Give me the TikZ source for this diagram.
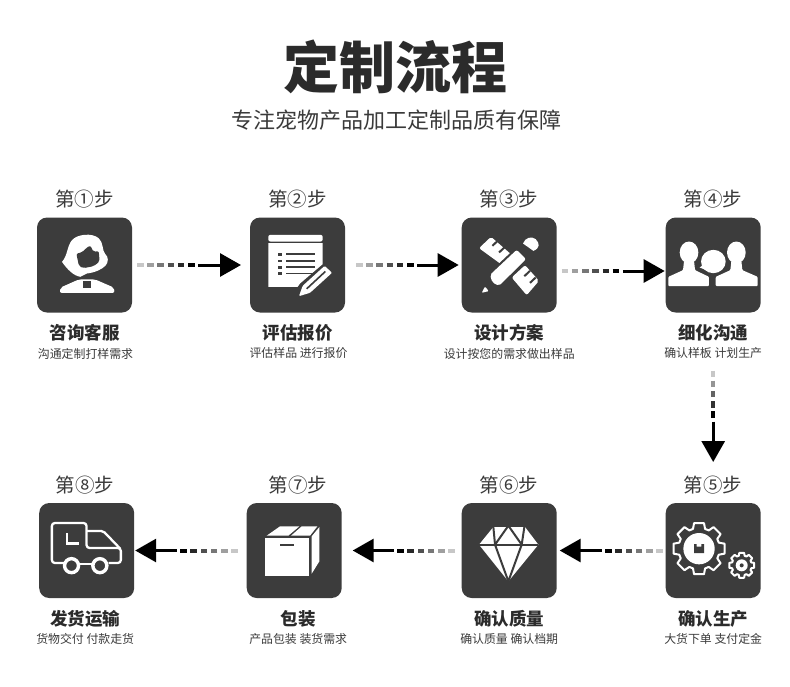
\documentclass[tikz,border=0pt]{standalone}
\usepackage{fontspec}
\setmainfont{Noto Sans CJK SC}
\usepackage{xcolor}
\usetikzlibrary{arrows.meta, positioning, calc}
\definecolor{panel}{HTML}{3C3C3C}
\definecolor{ink}{HTML}{2B2B2B}
\definecolor{mute}{HTML}{3A3A3A}
\tikzset{
  iconbox/.style  ={fill=panel, draw=none, rounded corners=10pt, minimum size=95pt,
                    inner sep=0pt, outer sep=0pt},
  headline/.style ={font=\bfseries\fontsize{56}{56}\selectfont, text=ink, inner sep=0pt},
  slogan/.style   ={font=\fontsize{22}{22}\selectfont, text=mute, inner sep=0pt},
  stepname/.style ={font=\fontsize{19.5}{20}\selectfont, text=mute, inner sep=0pt},
  boxname/.style  ={font=\bfseries\fontsize{17.5}{18}\selectfont, text=ink, inner sep=0pt},
  boxnote/.style  ={font=\fontsize{11.9}{12}\selectfont, text=mute, inner sep=0pt},
  flow/.style     ={-{Triangle[length=21pt,width=23pt]}, line width=3pt, draw=black},
  fadedot/.style  ={line width=4pt},
  glyph/.style    ={shift={(#1.north west)}, x=0.3333pt, y=-0.3333pt},
  glyphline/.style={draw=white, line width=2.3pt},
  cutline/.style  ={draw=panel, line width=2pt}
}
% from, to, gap at start, gap at end, number of dots
\newcommand{\fadeflow}[5]{
  \coordinate (fs) at ($(#1)!#3pt!(#2)$);
  \coordinate (fe) at ($(#2)!#4pt!(#1)$);
  \foreach \i [evaluate=\i as \g using {22+78*(\i-1)/(#5-1)},
               evaluate=\i as \da using {(\i-1)*10.2},
               evaluate=\i as \db using {(\i-1)*10.2+6.5}] in {1,...,#5}
    \draw[fadedot, draw=black!\g] ($(fs)!\da pt!(fe)$) -- ($(fs)!\db pt!(fe)$);
  \draw[flow, shorten <={#3pt+#5*10.2pt}, shorten >=#4pt] (#1) -- (#2);
}
\newcommand{\gearshape}[2]{
  \draw[glyphline, line width=2pt, line join=round] (-17:#2)
    \foreach \a in {0,45,...,315} { -- (\a-17:#2) -- (\a-11:#1) -- (\a+11:#1) -- (\a+17:#2) } -- cycle;
}
\begin{document}
\begin{tikzpicture}[x=1pt, y=-1pt, node distance=9pt]
  \useasboundingbox (0,0) rectangle (790,686);
  \node[headline] (head) at (395,67) {定制流程};
  \node[slogan]   (sub)  at (396,120) {专注宠物产品加工定制品质有保障};

  \node[iconbox] (ic1) at (84.5,265) {};
  \node[iconbox, right=118pt of ic1]   (ic2) {};
  \node[iconbox, right=116.7pt of ic2] (ic3) {};
  \node[iconbox, right=109pt of ic3]   (ic4) {};
  \node[iconbox, below=190.5pt of ic4] (ic5) {};
  \node[iconbox, left=109pt of ic5]    (ic6) {};
  \node[iconbox, left=120pt of ic6]    (ic7) {};
  \node[iconbox, left=112.5pt of ic7]  (ic8) {};

  \node[stepname, above=of ic1] (st1) {第①步};
  \node[stepname, above=of ic2] (st2) {第②步};
  \node[stepname, above=of ic3] (st3) {第③步};
  \node[stepname, above=of ic4] (st4) {第④步};
  \node[stepname, above=of ic5] (st5) {第⑤步};
  \node[stepname, above=of ic6] (st6) {第⑥步};
  \node[stepname, above=of ic7, xshift=4pt]    (st7) {第⑦步};
  \node[stepname, above=of ic8, xshift=-1.5pt] (st8) {第⑧步};

  \node[boxname, below=12pt of ic1] (na1) {咨询客服};
  \node[boxname, below=12pt of ic2] (na2) {评估报价};
  \node[boxname, below=12pt of ic3] (na3) {设计方案};
  \node[boxname, below=12pt of ic4] (na4) {细化沟通};
  \node[boxname, below=12pt of ic5] (na5) {确认生产};
  \node[boxname, below=12pt of ic6] (na6) {确认质量};
  \node[boxname, below=12pt of ic7, xshift=4pt]    (na7) {包装};
  \node[boxname, below=12pt of ic8, xshift=-1.5pt] (na8) {发货运输};

  \node[boxnote, below=6pt of na1, xshift=1pt] (no1) {沟通定制打样需求};
  \node[boxnote, below=6pt of na2, xshift=1pt] (no2) {评估样品 进行报价};
  \node[boxnote, below=6pt of na3] (no3) {设计按您的需求做出样品};
  \node[boxnote, below=6pt of na4] (no4) {确认样板 计划生产};
  \node[boxnote, below=6pt of na5] (no5) {大货下单 支付定金};
  \node[boxnote, below=6pt of na6] (no6) {确认质量 确认档期};
  \node[boxnote, below=6pt of na7] (no7) {产品包装 装货需求};
  \node[boxnote, below=6pt of na8] (no8) {货物交付 付款走货};

  \fadeflow{ic1.east}{ic2.west}{5}{9}{6}
  \fadeflow{ic2.east}{ic3.west}{11}{3}{6}
  \fadeflow{[yshift=-6pt]ic3.east}{[yshift=-6pt]ic4.west}{5}{1}{6}
  \fadeflow{ic4.south}{ic5.north}{58}{41}{5}
  \fadeflow{ic5.west}{ic6.east}{3}{3}{6}
  \fadeflow{ic6.west}{ic7.east}{7}{11}{6}
  \fadeflow{ic7.west}{ic8.east}{9}{1}{6}

  % headset
  \begin{scope}[glyph=ic1]
    \fill[white] (75,133) .. controls (92,115) and (90,85) .. (105,68)
      .. controls (120,50) and (165,45) .. (185,62) .. controls (200,75) and (195,100) .. (205,110)
      .. controls (215,118) and (215,135) .. (205,145) .. controls (195,155) and (175,165) .. (150,168)
      -- (130,178) .. controls (110,175) and (90,155) .. (75,133) -- cycle;
    \fill[panel, rounded corners=2pt] (118,108) -- (135,105) -- (147,92) -- (160,84) -- (170,104)
      -- (185,100) -- (188,132) -- (170,146) -- (140,152) -- (126,146) -- cycle;
    \draw[white, line width=1.8pt] (205,132) .. controls (195,150) and (170,158) .. (140,160);
    \fill[white, rounded corners=2pt] (68,226) -- (71,210) -- (125,186) -- (175,186) -- (230,210) -- (233,226) -- cycle;
    \fill[panel] (137,192) rectangle (163,211);
  \end{scope}
  % form and pen
  \begin{scope}[glyph=ic2]
    \fill[white, rounded corners=2pt] (55,72) -- (55,52) -- (218,52) -- (218,72) -- cycle;
    \fill[white] (55,77) -- (218,77) -- (218,140) -- (150,198) -- (143,208) -- (55,208) -- cycle;
    \foreach \r in {110,130,149,168} {
      \fill[panel] (83,\r-4) rectangle (95,\r+4);
      \fill[panel] (108,\r-3) rectangle (195,\r+3);
    }
    \fill[white, rounded corners=1pt] (147,236) -- (158,205) -- (224,145) -- (246,166) -- (180,226) -- cycle;
    \draw[cutline, line width=1.6pt] (170,214) -- (226,162);
  \end{scope}
  % ruler and pencil
  \begin{scope}[glyph=ic3]
    \fill[white, rounded corners=2pt] (52,92) -- (88,58) -- (150,112) -- (118,140) -- cycle;
    \fill[white, rounded corners=2pt] (150,180) -- (190,143) -- (232,190) -- (195,233) -- cycle;
    \draw[cutline] (108,70) -- (92,85);
    \draw[cutline] (128,90) -- (112,105);
    \draw[cutline] (205,160) -- (188,176);
    \draw[cutline] (222,180) -- (205,196);
    \fill[panel] (76,172) -- (165,88) -- (202,125) -- (112,214) -- cycle;
    \fill[white, rounded corners=2pt] (85,172) -- (165,97) -- (193,125) -- (112,205) -- (92,195) -- cycle;
    \fill[white, rounded corners=1pt] (60,226) -- (70,207) -- (81,221) -- cycle;
    \fill[white] (184,78) .. controls (190,60) and (210,55) .. (222,65)
      .. controls (235,78) and (235,92) .. (215,100) -- cycle;
  \end{scope}
  % three people
  \begin{scope}[glyph=ic4]
    \fill[white] (70,105) ellipse [x radius=28, y radius=33];
    \fill[white] (212,105) ellipse [x radius=28, y radius=33];
    \fill[white, rounded corners=1pt] (8,206) -- (8,178) -- (52,158) -- (55,130) -- (85,130) -- (88,158) -- (130,178) -- (130,206) -- cycle;
    \fill[white, rounded corners=1pt] (150,206) -- (150,178) -- (194,158) -- (197,130) -- (227,130) -- (230,158) -- (276,178) -- (276,206) -- cycle;
    \fill[panel] (143,132) ellipse [x radius=44, y radius=41];
    \fill[panel] (131,170) rectangle (149,206);
    \fill[white] (143,132) ellipse [x radius=37, y radius=35];
    \fill[white] (115,140) -- (102,150) -- (122,158) -- cycle;
  \end{scope}
  % gears
  \begin{scope}[glyph=ic5]
    \begin{scope}[shift={(100,137)}]
      \gearshape{78}{62}
      \fill[white] (0,0) circle [radius=47];
      \fill[panel] (-15,-14) -- (-7,-14) -- (-7,-6) -- (7,-6) -- (7,-14) -- (15,-14) -- (15,13) -- (-15,13) -- cycle;
    \end{scope}
    \begin{scope}[shift={(228,187)}]
      \gearshape{38}{30}
      \fill[white] (0,0) circle [radius=18];
      \fill[panel] (0,0) circle [radius=6];
    \end{scope}
  \end{scope}
  % diamond
  \begin{scope}[glyph=ic6]
    \fill[white] (52,125) -- (95,72) -- (190,72) -- (230,125) -- (140,235) -- cycle;
    \draw[cutline] (52,125) -- (230,125);
    \draw[cutline] (95,72) -- (100,125) -- (140,235) -- (180,125) -- (188,72);
    \draw[cutline] (100,125) -- (140,68) -- (180,125);
  \end{scope}
  % carton
  \begin{scope}[glyph=ic7]
    \fill[white] (55,105) rectangle (188,218);
    \fill[white] (60,98) -- (100,70) -- (158,70) -- (125,98) -- cycle;
    \fill[white] (133,98) -- (165,70) -- (212,70) -- (190,98) -- cycle;
    \fill[white] (195,100) -- (218,72) -- (218,175) -- (195,212) -- cycle;
    \fill[panel] (100,122) rectangle (142,130);
  \end{scope}
  % truck
  \begin{scope}[glyph=ic8]
    \draw[glyphline, line join=round, rounded corners=3pt] (75,180) -- (38,180) -- (38,60) -- (142,60)
      -- (142,135) -- (245,135) -- (245,180) -- (208,180);
    \draw[glyphline, rounded corners=2pt] (142,84) -- (192,84) -- (243,137);
    \draw[glyphline] (122,183) -- (157,183);
    \draw[white, line width=3.4pt] (97,188) circle [radius=21];
    \draw[white, line width=3.4pt] (182,188) circle [radius=21];
    \draw[glyphline, line width=2.4pt] (83,90) -- (83,122) -- (118,122);
  \end{scope}
\end{tikzpicture}
\end{document}
